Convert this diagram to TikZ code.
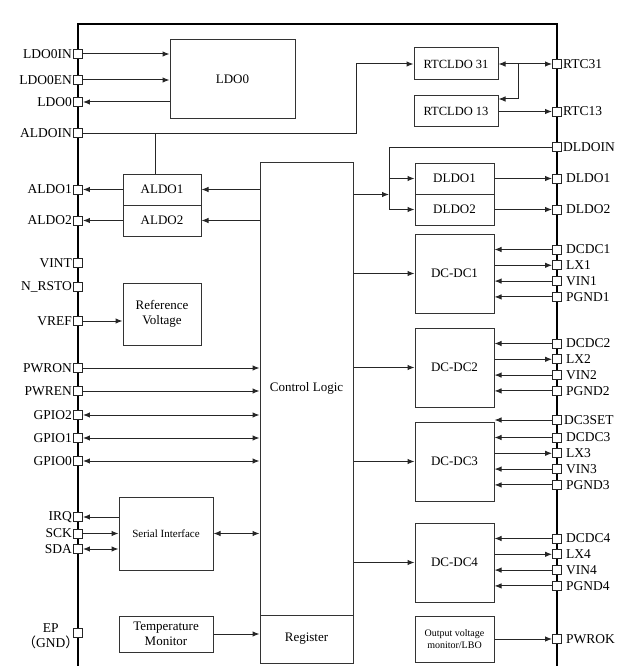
\documentclass[tikz,border=0pt]{standalone}
\usepackage{fontspec}
\setmainfont{Liberation Serif}
\newfontfamily\cjk{Noto Sans CJK SC}
\usetikzlibrary{arrows.meta}

\tikzset{
  blk/.style={draw=black!80, line width=1pt, inner sep=1pt, align=center},
  pin/.style={draw=black!85, fill=white, line width=0.9pt, minimum size=9pt, inner sep=0pt},
  lbl/.style={inner sep=1pt, font=\fontsize{13.5}{15}\selectfont},
  rlbl/.style={lbl, label distance=3pt},
  wire/.style={draw=black!85, line width=1pt},
  arr/.style={wire, -{Latex[length=7pt,width=5.5pt]}},
  darr/.style={wire, {Latex[length=7pt,width=5.5pt]}-{Latex[length=7pt,width=5.5pt]}},
  frame/.style={line width=2.3pt}
}

\begin{document}
\begin{tikzpicture}[x=1pt,y=-1pt,font=\fontsize{13}{15}\selectfont]

\useasboundingbox (0,0) rectangle (640,666);

% chip outline
\draw[frame] (78,666) -- (78,24) -- (557,24) -- (557,666);

% blocks
\node[blk, minimum width=125, minimum height=79] (LDO0) at (232.5,79.5) {LDO0};
\node[blk, minimum width=84, minimum height=32, font=\fontsize{12.5}{15}\selectfont] (RTC31box) at (456,64) {RTCLDO 31};
\node[blk, minimum width=84, minimum height=31, font=\fontsize{12.5}{15}\selectfont] (RTC13box) at (456,111.5) {RTCLDO 13};
\node[blk, minimum width=78, minimum height=31] (ALDO1) at (162,189.5) {ALDO1};
\node[blk, minimum width=78, minimum height=31] (ALDO2) at (162,220.5) {ALDO2};
\node[blk, minimum width=78, minimum height=62] (RefV) at (162,314) {Reference\\Voltage};
\node[blk, minimum width=94, minimum height=73, font=\fontsize{11}{13}\selectfont] (SI) at (166,533.5) {Serial Interface};
\node[blk, minimum width=94, minimum height=36] (TM) at (166,634) {Temperature\\Monitor};
\node[blk, minimum width=93, minimum height=453] (CL) at (306.5,388.5) {Control Logic};
\node[blk, minimum width=93, minimum height=48] (Reg) at (306.5,639) {Register};
\node[blk, minimum width=79, minimum height=31] (DLDO1) at (454.5,178.5) {DLDO1};
\node[blk, minimum width=79, minimum height=31] (DLDO2) at (454.5,209.5) {DLDO2};
\node[blk, minimum width=79, minimum height=46, font=\fontsize{10}{12}\selectfont] (OVM) at (454.5,639) {Output voltage\\monitor/LBO};

% left pins
\foreach \id/\y in {LDO0IN/54,LDO0EN/80,LDO0/102,ALDOIN/133,ALDO1/189.5,ALDO2/220.5,VINT/263,VREF/321,PWRON/368,PWREN/391,GPIO2/415,GPIO1/438,GPIO0/461,IRQ/517,SCK/533.5,SDA/549}
    \node[pin, label={[lbl]left:\id}] (p\id) at (78,\y) {};
\node[pin, label={[lbl]left:N\_RSTO}] (pNRSTO) at (78,287) {};
\node[pin, label={[lbl,align=center,yshift=-3pt,xshift=7pt]left:{EP\\{\cjk （}GND{\cjk ）}}}] (pEP) at (78,633) {};

% right pins
\foreach \id/\y in {RTC31/64,RTC13/111.5,DLDOIN/147}
    \node[pin, label={[lbl]right:\id}] (p\id) at (557,\y) {};
\foreach \id/\y in {DLDO1/178.5,DLDO2/209.5,PWROK/639}
    \node[pin, label={[rlbl]right:\id}] (p\id) at (557,\y) {};
\node[pin, label={[lbl,label distance=1pt]right:DC3SET}] (pDC3SET) at (557,420) {};

% LDO0
\draw[arr] (pLDO0IN) -- (pLDO0IN -| LDO0.west);
\draw[arr] (pLDO0EN) -- (pLDO0EN -| LDO0.west);
\draw[arr] (pLDO0 -| LDO0.west) -- (pLDO0);

% ALDOIN feeds RTC LDOs and ALDOs
\coordinate (aldoinup) at (356,64);
\coordinate (aldotap) at (155,133);
\draw[arr] (pALDOIN) -| (aldoinup) -- (RTC31box.west);
\draw[wire] (aldotap) -- (aldotap |- ALDO1.north);
\draw[arr] (CL.west |- ALDO1) -- (ALDO1.east);
\draw[arr] (CL.west |- ALDO2) -- (ALDO2.east);
\draw[arr] (ALDO1.west) -- (pALDO1);
\draw[arr] (ALDO2.west) -- (pALDO2);

% RTC
\coordinate (rtcsplit) at (518,64);
\coordinate (rtcdown) at (518,99);
\draw[darr] (RTC31box.east) -- (pRTC31);
\draw[arr] (rtcsplit) -- (rtcdown) -- (rtcdown -| RTC13box.east);
\draw[arr] (RTC13box.east) -- (pRTC13);

% DLDO
\coordinate (dldobus) at (389,147);
\draw[wire] (pDLDOIN) -- (dldobus) -- (dldobus |- DLDO2);
\draw[arr] (dldobus |- DLDO1) -- (DLDO1.west);
\draw[arr] (dldobus |- DLDO2) -- (DLDO2.west);
\draw[arr] (CL.east |- DLDO1.south) -- (dldobus |- DLDO1.south);
\draw[arr] (DLDO1.east) -- (pDLDO1);
\draw[arr] (DLDO2.east) -- (pDLDO2);

% reference, control inputs, GPIOs
\draw[arr] (pVREF) -- (pVREF -| RefV.west);
\draw[arr] (pPWRON) -- (pPWRON -| CL.west);
\draw[arr] (pPWREN) -- (pPWREN -| CL.west);
\foreach \id in {GPIO2,GPIO1,GPIO0}
    \draw[darr] (p\id) -- (p\id -| CL.west);

% serial interface
\draw[arr] (SI.west |- pIRQ) -- (pIRQ);
\draw[arr] (pSCK) -- (SI.west |- pSCK);
\draw[darr] (pSDA) -- (SI.west |- pSDA);
\draw[darr] (SI.east) -- (CL.west |- SI.east);

% temperature and power good
\draw[arr] (TM.east) -- (Reg.west |- TM.east);
\draw[arr] (OVM.east) -- (pPWROK);

% DC-DC converters
\foreach \n/\t in {1/234,2/328,3/422,4/523} {
    \node[blk, minimum width=79, minimum height=79] (DC\n) at (454.5,\t+39.5) {DC-DC\n};
    \node[pin, label={[rlbl]right:DCDC\n}] (pDCDC\n) at (557,\t+15.5) {};
    \node[pin, label={[rlbl]right:LX\n}] (pLX\n) at (557,\t+31.3) {};
    \node[pin, label={[rlbl]right:VIN\n}] (pVIN\n) at (557,\t+47.1) {};
    \node[pin, label={[rlbl]right:PGND\n}] (pPGND\n) at (557,\t+62.9) {};
    \draw[arr] (CL.east |- DC\n.west) -- (DC\n.west);
    \draw[arr] (pDCDC\n) -- (pDCDC\n -| DC\n.east);
    \draw[arr] (pLX\n -| DC\n.east) -- (pLX\n);
    \draw[arr] (pVIN\n) -- (pVIN\n -| DC\n.east);
    \draw[arr] (pPGND\n) -- (pPGND\n -| DC\n.east);
}
\draw[arr] (pDC3SET) -- (pDC3SET -| DC3.east);

\end{tikzpicture}
\end{document}
